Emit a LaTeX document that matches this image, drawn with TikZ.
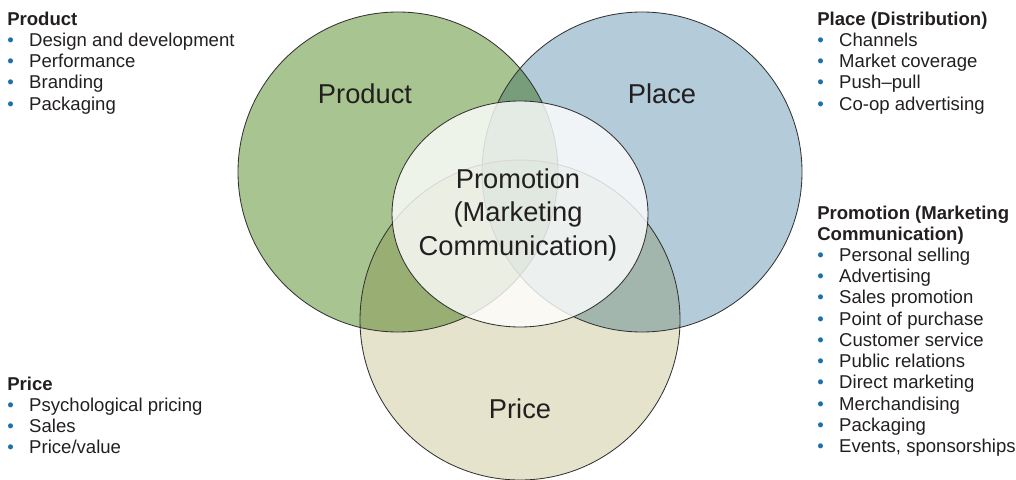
\documentclass[tikz,border=0pt]{standalone}
\usepackage{fontspec}
\setmainfont{Liberation Sans}
\usepackage{xcolor}
\usepackage{tikz}
\definecolor{prodgreen}{RGB}{168,196,144}
\definecolor{placeblue}{RGB}{180,204,217}
\definecolor{pricebeige}{RGB}{230,227,204}
\definecolor{prodplace}{RGB}{119,157,123}
\definecolor{prodprice}{RGB}{152,174,115}
\definecolor{placeprice}{RGB}{162,182,174}
\definecolor{allthree}{RGB}{107,140,98}
\definecolor{dotblue}{RGB}{28,114,168}
\definecolor{inkgray}{RGB}{35,31,32}
\newcommand{\bul}{\makebox[15.6pt][l]{\color{dotblue}\textbullet}}
\tikzset{
  rim/.style={draw=black!80,line width=.6pt},
  list/.style={align=left,inner sep=0pt,text=inkgray,font=\fontsize{13.2}{15.1}\selectfont},
  biglabel/.style={inner sep=0pt,text=inkgray,font=\fontsize{19.4}{23.6}\selectfont}
}

\begin{document}
\begin{tikzpicture}[x=0.025cm,y=-0.025cm,line join=round]
\useasboundingbox (0,0) rectangle (1016,479);
% the three circles
\fill[prodgreen](398,172) circle (160);
\fill[placeblue](642,172) circle (160);
\fill[pricebeige](520,320) circle (160);
\begin{scope}
\clip (642,172) circle (160);
\fill[placeprice](520,320) circle (160);
\end{scope}
\begin{scope}
\clip (398,172) circle (160);
\fill[prodplace](642,172) circle (160);
\fill[prodprice](520,320) circle (160);
\clip (642,172) circle (160);
\fill[allthree](520,320) circle (160);
\end{scope}
\draw[rim](398,172) circle (160);
\draw[rim](642,172) circle (160);
\draw[rim](520,320) circle (160);
% promotion in the middle
\filldraw[rim,fill=white,fill opacity=.8](520,214) ellipse [x radius=128,y radius=113];
\node[biglabel,anchor=base] (product) at (365,103.5) {Product};
\node[biglabel,anchor=base] (place) at (662,103.5) {Place};
\node[biglabel,anchor=base] (price) at (520,418) {Price};
% base = last line here
\node[biglabel,anchor=base,align=center] (promotion) at (518,255)
  {Promotion\\(Marketing\\Communication)};
% the lists, placed by their last line
\node[list,anchor=base west] (prodlist) at (7,110.2)
  {\textbf{Product}\\ \bul Design and development\\ \bul Performance\\ \bul Branding\\ \bul Packaging};
\node[list,anchor=base west] (placelist) at (817,110.2)
  {\textbf{Place (Distribution)}\\ \bul Channels\\ \bul Market coverage\\ \bul Push--pull\\ \bul Co-op advertising};
\node[list,anchor=base west] (promolist) at (817,452.6)
  {\textbf{Promotion (Marketing}\\ \textbf{Communication)}\\ \bul Personal selling\\ \bul Advertising\\
   \bul Sales promotion\\ \bul Point of purchase\\ \bul Customer service\\ \bul Public relations\\
   \bul Direct marketing\\ \bul Merchandising\\ \bul Packaging\\ \bul Events, sponsorships};
\node[list,anchor=base west] (pricelist) at (7,453.9)
  {\textbf{Price}\\ \bul Psychological pricing\\ \bul Sales\\ \bul Price/value};
\end{tikzpicture}
\end{document}
